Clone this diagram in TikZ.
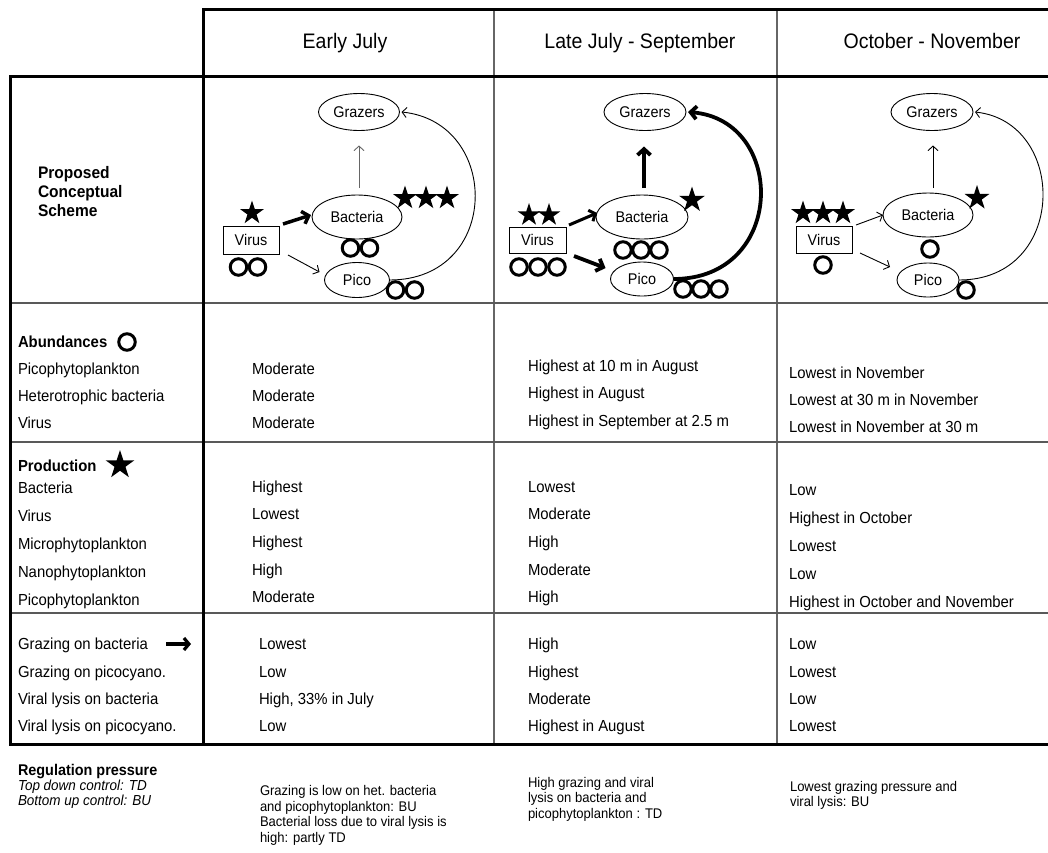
\documentclass[tikz,border=0pt]{standalone}
\usepackage{fontspec}
\setmainfont{Liberation Sans}[FakeStretch=0.93]
\usetikzlibrary{arrows.meta,shapes.geometric}
\begin{document}
\begin{tikzpicture}[x=1pt,y=-1pt,
  every node/.style={inner sep=0pt, outer sep=0pt},
  hdr/.style={anchor=base, font=\fontsize{21}{24}\selectfont},
  lbl/.style={anchor=base west, font=\fontsize{16}{19}\selectfont},
  blbl/.style={anchor=base west, font=\fontsize{16}{19}\selectfont\bfseries},
  pcs/.style={anchor=base west, font=\fontsize{16.7}{20}\selectfont\bfseries},
  sml/.style={anchor=base west, font=\fontsize{14}{16.5}\selectfont},
  ell/.style={draw, ellipse, line width=0.9pt, font=\fontsize{15.5}{18}\selectfont},
  box/.style={draw, rectangle, line width=0.9pt, font=\fontsize{15.5}{18}\selectfont},
  circ/.style={draw, circle, line width=3pt, minimum size=16.5pt},
  starn/.style={star, star points=5, star point ratio=2.618, fill=black, minimum size=25pt},
  frame/.style={line width=3pt, black},
  sep/.style={line width=1.6pt, black!65},
  colsep/.style={line width=1.1pt, black!60},
  thinarr/.style={-{Straight Barb[length=4.5pt,width=10pt]}, line width=0.9pt},
  thickarr/.style={-{Straight Barb[length=6pt,width=13pt]}, line width=3.8pt},
]
\useasboundingbox (0,0) rectangle (1048,852);

% ---- table lines
\draw[colsep] (494,9) -- (494,744);
\draw[colsep] (777,9) -- (777,744);
\draw[sep] (10,303) -- (1048,303);
\draw[sep] (10,442) -- (1048,442);
\draw[sep] (10,613) -- (1048,613);
\draw[frame] (203,744) -- (203,9) -- (1048,9);
\draw[frame] (1048,76) -- (10,76) -- (10,744) -- (1048,744);

% ---- headers
\node[hdr] (h1) at (345,48) {Early July};
\node[hdr] (h2) at (640,48) {Late July - September};
\node[hdr] (h3) at (932,48) {October - November};

\node[pcs] (p1) at (38,178) {Proposed};
\node[pcs] (p2) at (38,197) {Conceptual};
\node[pcs] (p3) at (38,216) {Scheme};

% ---- scheme column 1
\node[ell, minimum width=81pt, minimum height=37pt] (gr1) at (359,112) {Grazers};
\node[ell, minimum width=90pt, minimum height=44pt] (bac1) at (357,217) {Bacteria};
\node[ell, minimum width=65pt, minimum height=35pt] (pic1) at (357,280) {Pico};
\node[box, minimum width=56pt, minimum height=28pt] (vir1) at (251,240) {Virus};
\node[starn] (s1a) at (252,213) {};
\node[starn] (s1b) at (405,198) {};
\node[starn] (s1c) at (426,198) {};
\node[starn] (s1d) at (447,198) {};
\node[circ] (c1a) at (238.5,267) {};
\node[circ] (c1b) at (257.5,267) {};
\node[circ] (c1c) at (350.5,248) {};
\node[circ] (c1d) at (369.5,248) {};
\node[circ] (c1e) at (395.5,290) {};
\node[circ] (c1f) at (414.5,290) {};
\draw[thinarr, black!60] ([shift={(2,-7)}]bac1.north) -- ([shift={(0,15)}]gr1.south);
\draw[thickarr, line width=3.5pt] ([shift={(4,-2)}]vir1.north east) -- ([shift={(-1,-2)}]bac1.west);
\draw[thinarr] ([shift={(9,15)}]vir1.east) -- ([shift={(-5,-8)}]pic1.west);
\draw[thinarr] (pic1.east) .. controls +(112,0) and +(100,10) .. ([xshift=2pt]gr1.east);

% ---- scheme column 2
\node[ell, minimum width=82pt, minimum height=37pt] (gr2) at (645,112) {Grazers};
\node[ell, minimum width=92pt, minimum height=44pt] (bac2) at (642,217) {Bacteria};
\node[ell, minimum width=63pt, minimum height=34pt] (pic2) at (642,279) {Pico};
\node[box, minimum width=57pt, minimum height=26pt] (vir2) at (537.5,240) {Virus};
\node[starn, minimum size=24pt] (s2a) at (529,215) {};
\node[starn, minimum size=24pt] (s2b) at (549,215) {};
\node[starn, minimum size=27pt] (s2c) at (692,200) {};
\node[circ] (c2a) at (519,267) {};
\node[circ] (c2b) at (538,267) {};
\node[circ] (c2c) at (557,267) {};
\node[circ] (c2d) at (623,250) {};
\node[circ] (c2e) at (641,250) {};
\node[circ] (c2f) at (659,250) {};
\node[circ] (c2g) at (683,289) {};
\node[circ] (c2h) at (701,289) {};
\node[circ] (c2i) at (719,289) {};
\draw[thickarr] ([shift={(2,-7)}]bac2.north) -- ([shift={(-1,16)}]gr2.south);
\draw[thickarr, line width=3pt, -{Straight Barb[length=5pt,width=12pt]}] ([shift={(3,-2)}]vir2.north east) -- ([shift={(1,-4)}]bac2.west);
\draw[thickarr] ([shift={(8,3)}]vir2.south east) -- ([shift={(-5,-11)}]pic2.west);
\draw[thickarr] (pic2.east) .. controls +(113,0) and +(99,8) .. ([xshift=2pt]gr2.east);

% ---- scheme column 3
\node[ell, minimum width=82pt, minimum height=37pt] (gr3) at (932,112) {Grazers};
\node[ell, minimum width=90pt, minimum height=44pt] (bac3) at (928,215) {Bacteria};
\node[ell, minimum width=62pt, minimum height=34pt] (pic3) at (928,280) {Pico};
\node[box, minimum width=56pt, minimum height=27pt] (vir3) at (824,239.5) {Virus};
\node[starn] (s3a) at (803,213) {};
\node[starn] (s3b) at (823,213) {};
\node[starn] (s3c) at (843,213) {};
\node[starn, minimum size=26pt] (s3d) at (977,198) {};
\node[circ] (c3a) at (823,265) {};
\node[circ] (c3b) at (930,249) {};
\node[circ] (c3c) at (966,290) {};
\draw[thinarr] ([shift={(5,-5)}]bac3.north) -- ([shift={(1,15)}]gr3.south);
\draw[thinarr] ([shift={(4,-1)}]vir3.north east) -- (bac3.west);
\draw[thinarr] ([shift={(8,0)}]vir3.south east) -- ([shift={(-7,-13)}]pic3.west);
\draw[thinarr] (pic3.east) .. controls +(109,0) and +(93,10) .. ([xshift=2pt]gr3.east);

% ---- abundances
\node[blbl] (ab) at (18,347) {Abundances};
\node[circ] (abc) at (127,342) {};
\node[lbl] (a1) at (18,374) {Picophytoplankton};
\node[lbl] (a2) at (18,401) {Heterotrophic bacteria};
\node[lbl] (a3) at (18,428) {Virus};
\node[lbl] (a1c1) at (252,374) {Moderate};
\node[lbl] (a2c1) at (252,401) {Moderate};
\node[lbl] (a3c1) at (252,428) {Moderate};
\node[lbl] (a1c2) at (528,371) {Highest at 10 m in August};
\node[lbl] (a2c2) at (528,398) {Highest in August};
\node[lbl] (a3c2) at (528,426) {Highest in September at 2.5 m};
\node[lbl] (a1c3) at (789,378) {Lowest in November};
\node[lbl] (a2c3) at (789,405) {Lowest at 30 m in November};
\node[lbl] (a3c3) at (789,432) {Lowest in November at 30 m};

% ---- production
\node[blbl] (pr) at (18,471) {Production};
\node[starn, minimum size=30pt] (prs) at (120,465) {};
\node[lbl] (b1) at (18,493) {Bacteria};
\node[lbl] (b2) at (18,521) {Virus};
\node[lbl] (b3) at (18,549) {Microphytoplankton};
\node[lbl] (b4) at (18,577) {Nanophytoplankton};
\node[lbl] (b5) at (18,605) {Picophytoplankton};
\node[lbl] (b1c1) at (252,492) {Highest};
\node[lbl] (b2c1) at (252,519) {Lowest};
\node[lbl] (b3c1) at (252,547) {Highest};
\node[lbl] (b4c1) at (252,575) {High};
\node[lbl] (b5c1) at (252,602) {Moderate};
\node[lbl] (b1c2) at (528,492) {Lowest};
\node[lbl] (b2c2) at (528,519) {Moderate};
\node[lbl] (b3c2) at (528,547) {High};
\node[lbl] (b4c2) at (528,575) {Moderate};
\node[lbl] (b5c2) at (528,602) {High};
\node[lbl] (b1c3) at (789,495) {Low};
\node[lbl] (b2c3) at (789,523) {Highest in October};
\node[lbl] (b3c3) at (789,551) {Lowest};
\node[lbl] (b4c3) at (789,579) {Low};
\node[lbl] (b5c3) at (789,607) {Highest in October and November};

% ---- grazing / lysis
\node[lbl] (g1) at (18,649) {Grazing on bacteria};
\coordinate (ga) at (166,644);
\coordinate (gb) at (191,644);
\draw[thickarr, line width=3.2pt, -{Straight Barb[length=5pt,width=12pt]}] (ga) -- (gb);
\node[lbl] (g2) at (18,677) {Grazing on picocyano.};
\node[lbl] (g3) at (18,704) {Viral lysis on bacteria};
\node[lbl] (g4) at (18,731) {Viral lysis on picocyano.};
\node[lbl] (g1c1) at (259,649) {Lowest};
\node[lbl] (g2c1) at (259,677) {Low};
\node[lbl] (g3c1) at (259,704) {High, 33\% in July};
\node[lbl] (g4c1) at (259,731) {Low};
\node[lbl] (g1c2) at (528,649) {High};
\node[lbl] (g2c2) at (528,677) {Highest};
\node[lbl] (g3c2) at (528,704) {Moderate};
\node[lbl] (g4c2) at (528,731) {Highest in August};
\node[lbl] (g1c3) at (789,649) {Low};
\node[lbl] (g2c3) at (789,677) {Lowest};
\node[lbl] (g3c3) at (789,704) {Low};
\node[lbl] (g4c3) at (789,731) {Lowest};

% ---- regulation pressure
\node[sml, font=\fontsize{15.5}{18}\selectfont\bfseries] (r0) at (18,775) {Regulation pressure};
\node[sml, font=\fontsize{14.5}{17}\selectfont\itshape] (r1) at (18,790) {Top down  control: TD};
\node[sml, font=\fontsize{14.5}{17}\selectfont\itshape] (r2) at (18,805) {Bottom up control: BU};
\node[sml] (r1a) at (260,795) {Grazing is low on het. bacteria};
\node[sml] (r1b) at (260,811) {and picophytoplankton: BU};
\node[sml] (r1c) at (260,826) {Bacterial loss due to viral lysis is};
\node[sml] (r1d) at (260,842) {high: partly TD};
\node[sml] (r2a) at (528,787) {High grazing and viral};
\node[sml] (r2b) at (528,802) {lysis on bacteria and};
\node[sml] (r2c) at (528,818) {picophytoplankton : TD};
\node[sml] (r3a) at (790,791) {Lowest grazing pressure and};
\node[sml] (r3b) at (790,806) {viral lysis: BU};
\end{tikzpicture}
\end{document}
